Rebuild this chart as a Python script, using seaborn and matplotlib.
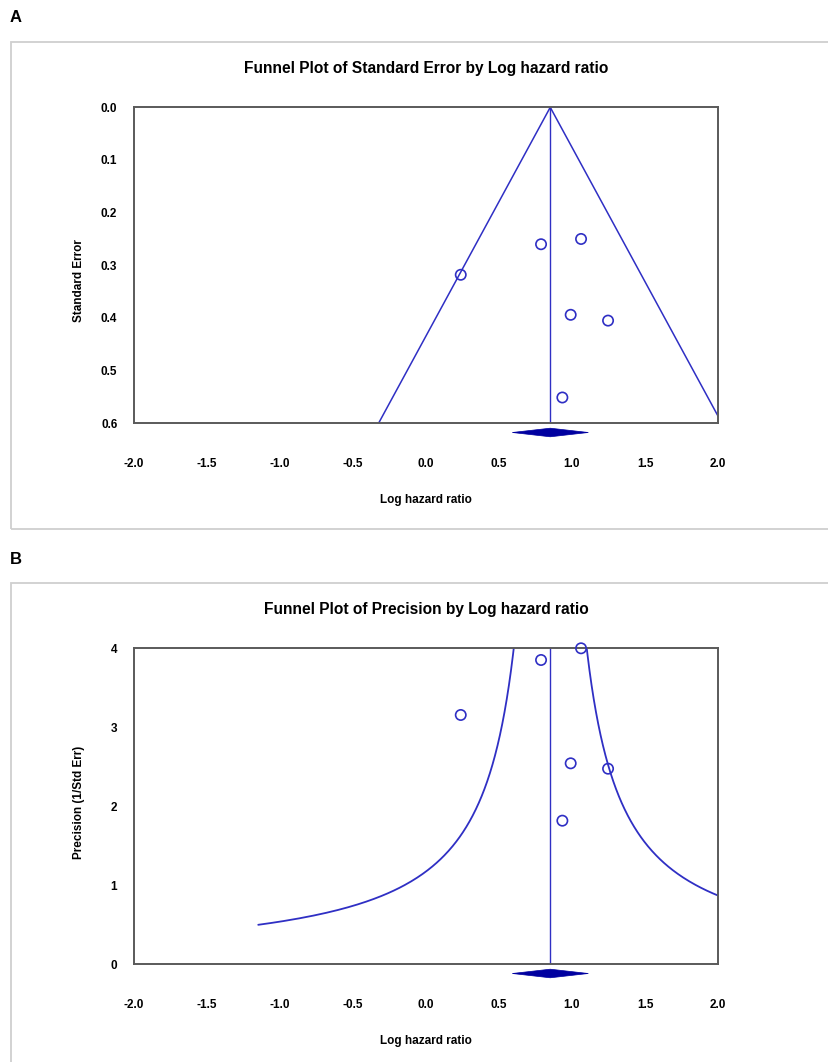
import numpy as np
import pandas as pd
import matplotlib
matplotlib.use("Agg")
import matplotlib.pyplot as plt
from matplotlib.patches import Rectangle, Polygon
import seaborn as sns

# ---------------- data ----------------
study_log_hr = [0.238, 0.788, 1.062, 0.991, 1.247, 0.934]
study_se = [0.318, 0.260, 0.250, 0.394, 0.405, 0.551]
study_precision = [3.156, 3.852, 4.000, 2.544, 2.476, 1.818]

pooled_log_hr = 0.851
pooled_ci = [0.591, 1.112]

funnel_z_a = 1.96          # funnel half width = z * SE  (panel A)
funnel_z_b = 1.0           # funnel half width = z / precision (panel B)
se_max = 0.6
prec_min, prec_max = 0.5, 4.0

x_ticks = [-2.0, -1.5, -1.0, -0.5, 0.0, 0.5, 1.0, 1.5, 2.0]
x_ticklabels = ["-2.0", "-1.5", "-1.0", "-0.5", "0.0", "0.5", "1.0", "1.5", "2.0"]
se_ticks = [0.0, 0.1, 0.2, 0.3, 0.4, 0.5, 0.6]
se_ticklabels = ["0.0", "0.1", "0.2", "0.3", "0.4", "0.5", "0.6"]
prec_ticks = [0, 1, 2, 3, 4]
prec_ticklabels = ["0", "1", "2", "3", "4"]

title_a = "Funnel Plot of Standard Error by Log hazard ratio"
title_b = "Funnel Plot of Precision by Log hazard ratio"
xlabel = "Log hazard ratio"
ylabel_a = "Standard Error"
ylabel_b = "Precision (1/Std Err)"

# ---------------- style ----------------
sns.set_theme(style="white")
plt.rcParams["font.family"] = ["Liberation Sans", "DejaVu Sans"]
plt.rcParams["text.color"] = "black"
plt.rcParams["axes.labelcolor"] = "black"
plt.rcParams["xtick.color"] = "black"
plt.rcParams["ytick.color"] = "black"

LINE = "#2f2fc4"
DIAM = "#0000a0"
SPINE = "#5a5a5a"
FRAME = "#cfcfcf"

W, H = 829, 1062
fig = plt.figure(figsize=(W / 100, H / 100), dpi=100)

def fx(px):
    return px / W

def fy(py):
    return 1 - py / H

ax_left, ax_right = 134, 718
axA = fig.add_axes([fx(ax_left), fy(423.3), fx(ax_right - ax_left), (423.3 - 107.3) / H])
axB = fig.add_axes([fx(ax_left), fy(964.3), fx(ax_right - ax_left), (964.3 - 648.3) / H])

# panel frames
for top, bottom in [(42, 529), (583, 1075)]:
    fig.patches.append(Rectangle((fx(11), fy(bottom)), fx(W + 20 - 11), (bottom - top) / H,
                                 transform=fig.transFigure, fill=False,
                                 edgecolor=FRAME, lw=1.3, zorder=0))

fig.text(fx(10), fy(18), "A", fontsize=12, fontweight="bold", va="center", ha="left")
fig.text(fx(10), fy(560), "B", fontsize=12, fontweight="bold", va="center", ha="left")

def style_axes(ax):
    for s in ax.spines.values():
        s.set_visible(True)
        s.set_color(SPINE)
        s.set_linewidth(1.4)
    ax.set_xlim(-2.0, 2.0)
    ax.set_xticks(x_ticks)
    ax.set_xticklabels(x_ticklabels)
    ax.tick_params(axis="x", direction="inout", length=6, width=1, color=SPINE,
                   pad=22, labelsize=8.5, labelcolor="black")
    ax.tick_params(axis="y", direction="out", length=3, width=1, color=SPINE,
                   pad=9, labelsize=8.5, labelcolor="black")
    for lab in ax.get_xticklabels() + ax.get_yticklabels():
        lab.set_fontweight("bold")
    ax.grid(False)

def draw_diamond(ax, yc, half_h):
    verts = [(pooled_ci[0], yc), (pooled_log_hr, yc - half_h),
             (pooled_ci[1], yc), (pooled_log_hr, yc + half_h)]
    ax.add_patch(Polygon(verts, closed=True, facecolor=DIAM, edgecolor=DIAM,
                         lw=0.5, clip_on=False, zorder=5))

# ---------------- panel A ----------------
funnel_a = pd.DataFrame({
    "x": [pooled_log_hr - funnel_z_a * se_max, pooled_log_hr, pooled_log_hr + funnel_z_a * se_max],
    "y": [se_max, 0.0, se_max],
})
sns.lineplot(data=funnel_a, x="x", y="y", sort=False, estimator=None,
             color=LINE, lw=1.1, ax=axA)
sns.lineplot(x=[pooled_log_hr, pooled_log_hr], y=[0.0, se_max], sort=False,
             estimator=None, errorbar=None, color=LINE, lw=1.0, ax=axA)
dfA = pd.DataFrame({"log_hr": study_log_hr, "se": study_se})
sns.scatterplot(data=dfA, x="log_hr", y="se", ax=axA, s=55, facecolor="none",
                edgecolor=LINE, linewidth=1.2, zorder=4)
axA.set_ylim(se_max, 0.0)
axA.set_yticks(se_ticks)
axA.set_yticklabels(se_ticklabels)
style_axes(axA)
draw_diamond(axA, se_max + 9.2 / 527, 4.3 / 527)

# ---------------- panel B ----------------
p = np.linspace(prec_min, prec_max, 300)
funnel_b_left = pd.DataFrame({"x": pooled_log_hr - funnel_z_b / p, "y": p})
funnel_b_right = pd.DataFrame({"x": pooled_log_hr + funnel_z_b / p, "y": p})
sns.lineplot(data=funnel_b_left, x="x", y="y", sort=False, estimator=None,
             color=LINE, lw=1.3, ax=axB)
sns.lineplot(data=funnel_b_right, x="x", y="y", sort=False, estimator=None,
             color=LINE, lw=1.3, ax=axB)
sns.lineplot(x=[pooled_log_hr, pooled_log_hr], y=[0.0, prec_max], sort=False,
             estimator=None, errorbar=None, color=LINE, lw=1.0, ax=axB)
dfB = pd.DataFrame({"log_hr": study_log_hr, "precision": study_precision})
sns.scatterplot(data=dfB, x="log_hr", y="precision", ax=axB, s=55, facecolor="none",
                edgecolor=LINE, linewidth=1.2, zorder=4, clip_on=False)
axB.set_ylim(0, prec_max)
axB.set_yticks(prec_ticks)
axB.set_yticklabels(prec_ticklabels)
style_axes(axB)
draw_diamond(axB, -9.2 / 79, 4.3 / 79)

# ---------------- labels ----------------
for ax, title, ylab, ylab_y in [(axA, title_a, ylabel_a, 0.453), (axB, title_b, ylabel_b, 0.514)]:
    ax.set_title(title, fontsize=11.2, fontweight="bold", pad=25, color="black")
    ax.set_xlabel(xlabel, fontsize=8.5, fontweight="bold")
    ax.xaxis.set_label_coords(0.5, -0.243)
    ax.xaxis.label.set_va("center")
    ax.set_ylabel(ylab, fontsize=8.5, fontweight="bold")
    ax.yaxis.set_label_coords(-0.094, ylab_y)
    ax.yaxis.label.set_va("center")

fig.savefig("out.png", dpi=100, facecolor="white")
